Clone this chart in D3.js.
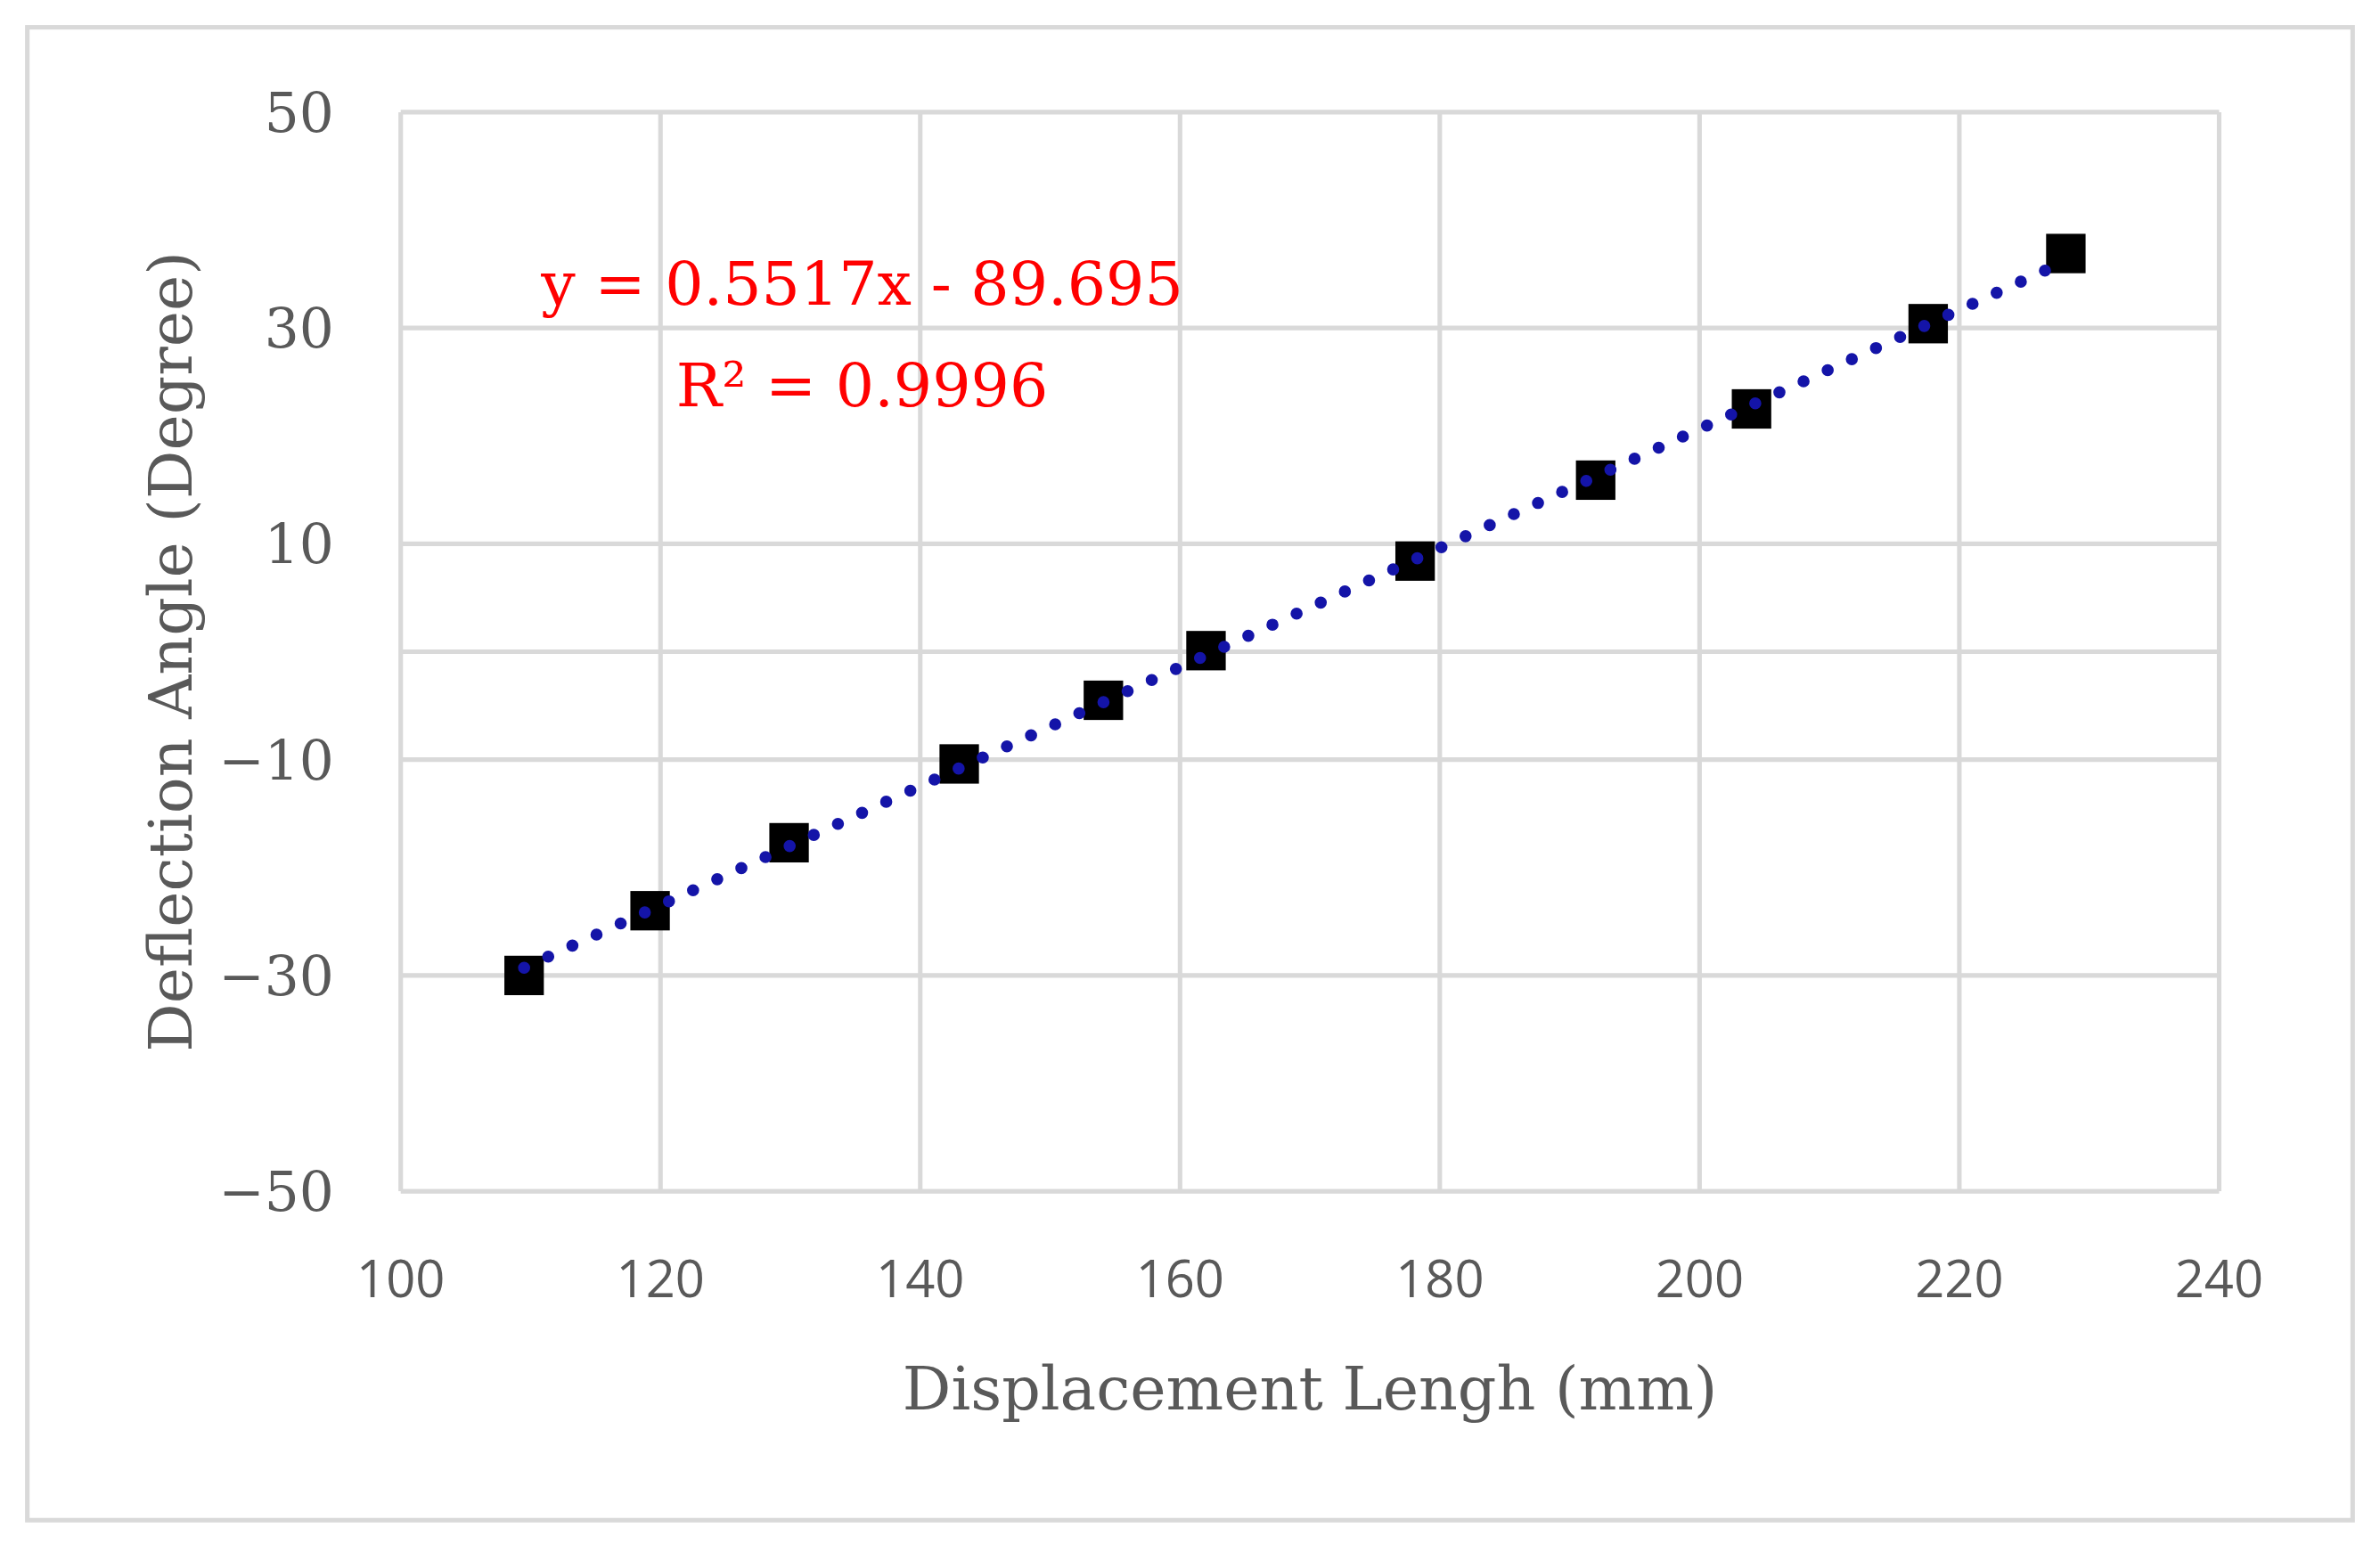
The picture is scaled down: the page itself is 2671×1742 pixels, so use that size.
<!DOCTYPE html>
<html lang="en">
<head>
  <meta charset="UTF-8">
  <script src="https://d3js.org/d3.v7.min.js"></script>
  <style>
    body { margin: 0; background: white; }
    svg { display: block; }
  </style>
</head>
<body>
<svg id="chart"></svg>
<script>
// data
const lengths = [109.5, 119.2, 129.9, 143.0, 154.1, 162.0, 178.1, 192.0, 204.0, 217.6, 228.2];
const angles  = [-30.0, -24.0, -17.7, -10.4, -4.5, 0.1, 8.4, 15.9, 22.5, 30.4, 36.9];
const xTicks = [100, 120, 140, 160, 180, 200, 220, 240];
const yGrid  = [-50, -30, -10, 0, 10, 30, 50];
const yLabels = [-50, -30, -10, 10, 30, 50];
const slope = 0.5517, intercept = -89.695;

const svg = d3.select("#chart")
  .attr("width", 2671).attr("height", 1742)
  .attr("viewBox", "0 0 1568 1024")
  .attr("preserveAspectRatio", "none");

svg.append("rect").attr("x", 18).attr("y", 18).attr("width", 1532).attr("height", 985)
  .attr("fill", "white").attr("stroke", "#d9d9d9").attr("stroke-width", 3);

var x = d3.scaleLinear().domain([100, 240]).range([264, 1462]);
var y = d3.scaleLinear().domain([-50, 50]).range([786, 74]);

// grid
svg.selectAll(".vgrid").data(xTicks).join("line")
  .attr("x1", d => x(d)).attr("x2", d => x(d)).attr("y1", y(50)).attr("y2", y(-50))
  .attr("stroke", "#d9d9d9").attr("stroke-width", 3);
svg.selectAll(".hgrid").data(yGrid).join("line")
  .attr("x1", x(100)).attr("x2", x(240)).attr("y1", d => y(d)).attr("y2", d => y(d))
  .attr("stroke", "#d9d9d9").attr("stroke-width", 3);

// tick labels
svg.selectAll(".xt").data(xTicks).join("text")
  .attr("x", d => x(d)).attr("y", 856).attr("text-anchor", "middle")
  .attr("font-family", "Open Sans, sans-serif").attr("font-size", 34).attr("fill", "#595959")
  .text(d => d);
svg.selectAll(".yt").data(yLabels).join("text")
  .attr("x", 220).attr("y", d => y(d) + 13).attr("text-anchor", "end")
  .attr("font-family", "DejaVu Serif, serif").attr("font-size", 36).attr("fill", "#595959")
  .text(d => d < 0 ? "\u2212" + Math.abs(d) : d);

// axis titles
svg.append("text").attr("x", 863).attr("y", 930).attr("text-anchor", "middle")
  .attr("font-family", "DejaVu Serif, serif").attr("font-size", 40).attr("fill", "#595959")
  .text("Displacement Lengh (mm)");
svg.append("text").attr("transform", "translate(126,430) rotate(-90)").attr("text-anchor", "middle")
  .attr("font-family", "DejaVu Serif, serif").attr("font-size", 40).attr("fill", "#595959")
  .text("Deflection Angle (Degree)");

// markers
svg.selectAll(".pt").data(lengths).join("rect")
  .attr("x", (d, i) => x(d) - 13).attr("y", (d, i) => y(angles[i]) - 13)
  .attr("width", 26).attr("height", 26).attr("fill", "black");

// dotted trendline
const x0 = d3.min(lengths), x1 = d3.max(lengths);
svg.append("line")
  .attr("x1", x(x0)).attr("y1", y(slope * x0 + intercept))
  .attr("x2", x(x1)).attr("y2", y(slope * x1 + intercept))
  .attr("stroke", "#1414a8").attr("stroke-width", 8)
  .attr("stroke-linecap", "round").attr("stroke-dasharray", "0 17.5");

// equation
svg.append("text").attr("x", 568).attr("y", 201).attr("text-anchor", "middle")
  .attr("font-family", "DejaVu Serif, serif").attr("font-size", 40).attr("fill", "red")
  .text("y = 0.5517x - 89.695");
svg.append("text").attr("x", 568).attr("y", 268).attr("text-anchor", "middle")
  .attr("font-family", "DejaVu Serif, serif").attr("font-size", 40).attr("fill", "red")
  .text("R\u00b2 = 0.9996");
</script>
</body>
</html>
